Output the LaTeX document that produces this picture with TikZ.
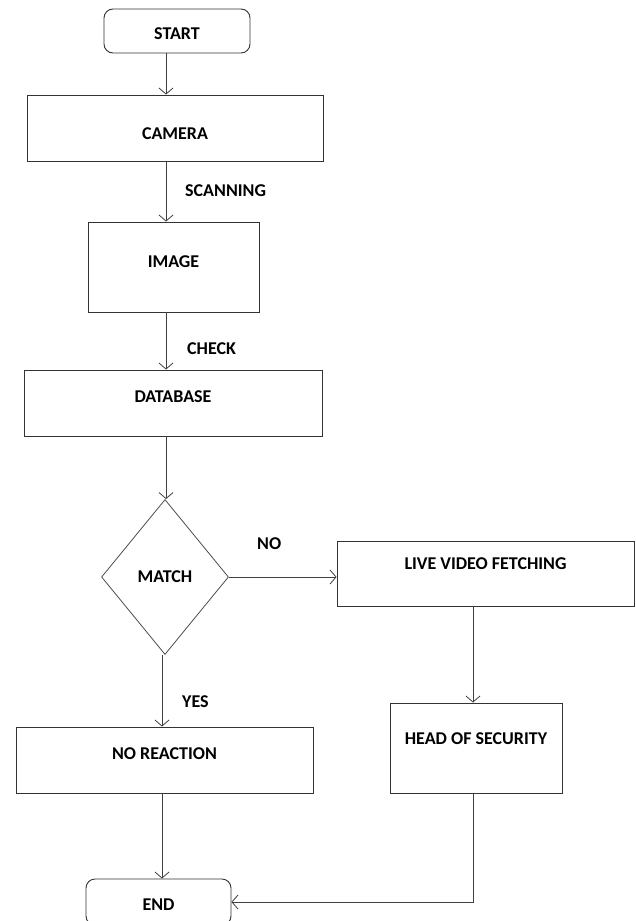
\documentclass[tikz,border=0pt]{standalone}
\usepackage{fontspec}
\setmainfont{Carlito}
\usetikzlibrary{arrows.meta, shapes.geometric}

\tikzset{
  box/.style={draw=black!80, line width=0.9pt, inner sep=2pt},
  term/.style={box, rounded corners=9pt},
  decide/.style={draw=black!70, line width=0.8pt, diamond, aspect=0.82, inner sep=0pt, minimum width=127pt, minimum height=155pt},
  flow/.style={draw=black!75, line width=0.8pt, -{Straight Barb[length=6pt, width=14pt]}},
  tag/.style={anchor=west, inner sep=0pt},
  lift/.style 2 args={text height=#1pt, text depth=#2pt},
}

\begin{document}
\begin{tikzpicture}[x=1pt, y=-1pt, font=\fontsize{18}{21}\selectfont\bfseries]
\useasboundingbox (0,0) rectangle (636,921);

% columns of the connectors
\coordinate (colA) at (166,0);
\coordinate (colB) at (162,0);
\coordinate (colC) at (473,0);

% main column
\node[term, lift={26.6}{9}, minimum width=146pt, minimum height=44pt] (start) at (177,31) {START};
\node[box, lift={29.6}{6}, minimum width=296pt, minimum height=66pt] (camera) at (175,128) {CAMERA};
\node[box, lift={18.6}{17}, minimum width=171pt, minimum height=90pt] (image) at (173.5,267) {IMAGE};
\node[box, lift={17.6}{18}, minimum width=298pt, minimum height=66pt] (dbase) at (173,403) {DATABASE};
\node[decide] (match) at (165,577) {MATCH};
\node[box, lift={17.6}{18}, minimum width=297pt, minimum height=66pt] (noreact) at (164.5,760) {NO REACTION};
\node[term, lift={26.6}{9}, minimum width=145pt, minimum height=46pt] (end) at (158.5,902) {END};

% right branch
\node[box, lift={13.6}{22}, minimum width=297pt, minimum height=65pt] (live) at (485.5,573.5) {LIVE VIDEO FETCHING};
\node[box, lift={14.6}{21}, minimum width=172pt, minimum height=90pt] (hos) at (476,748) {HEAD OF SECURITY};

% labels
\node[tag] (scan) at (185,191) {SCANNING};
\node[tag] (check) at (187,349) {CHECK};
\node[tag] (no) at (257,544) {NO};
\node[tag] (yes) at (182,702) {YES};

% connectors
\draw[flow] (start.south -| colA) -- (camera.north -| colA);
\draw[flow] (camera.south -| colA) -- (image.north -| colA);
\draw[flow] (image.south -| colA) -- (dbase.north -| colA);
\draw[flow] (dbase.south -| colA) -- (match.north -| colA);
\draw[flow] (match.east) -- (match.east -| live.west);
\draw[flow] (match.south -| colB) -- (noreact.north -| colB);
\draw[flow] (noreact.south -| colB) -- (end.north -| colB);
\draw[flow] (live.south -| colC) -- (hos.north -| colC);
\draw[flow] (hos.south -| colC) |- (end.east);
\end{tikzpicture}
\end{document}
